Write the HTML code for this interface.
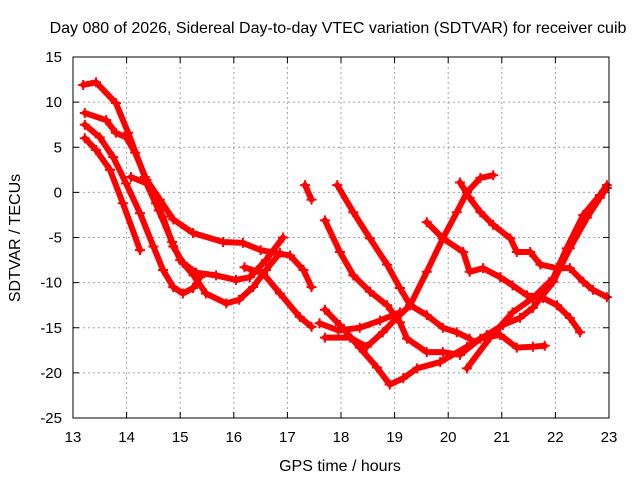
<!DOCTYPE html>
<html><head><meta charset="utf-8"><style>
body{margin:0;background:#fff;}
svg{display:block;font-family:"Liberation Sans",sans-serif;}
</style></head><body>
<svg id="chart" width="640" height="480" viewBox="0 0 640 480" xmlns="http://www.w3.org/2000/svg">
<rect width="640" height="480" fill="#fff"/>
<text x="338" y="33" font-size="16" text-anchor="middle">Day 080 of 2026, Sidereal Day-to-day VTEC variation (SDTVAR) for receiver cuib</text>
<text x="340" y="471" font-size="16" text-anchor="middle">GPS time / hours</text>
<text transform="translate(20,238) rotate(-90)" font-size="16" text-anchor="middle">SDTVAR / TECUs</text>
<g id="grid"></g>
<g id="ticks"></g>
<g id="series"></g>
<rect x="73" y="57" width="536" height="361" fill="none" stroke="#000" stroke-width="1"/>
</svg>
<script>
const xTicks=[13,14,15,16,17,18,19,20,21,22,23];
const yTicks=[15,10,5,0,-5,-10,-15,-20,-25];
const sA_x=[13.19,13.43,13.8,14.03,14.34,14.62,14.87,15.24,15.8,16.17,16.5,17.05,17.3,17.45];
const sA_y=[11.9,12.2,9.9,6.6,1.7,-0.8,-3,-4.5,-5.5,-5.6,-6.4,-7,-8.6,-10.5];
const sB_x=[13.22,13.62,13.8,13.99,14.16,14.37,14.55,14.68,14.87,15.05,15.3,15.67,16.04,16.3,16.6,16.92];
const sB_y=[8.8,8,6.6,6.1,4.4,1.4,-1.2,-2.7,-6,-7.8,-8.9,-9.2,-9.7,-9.4,-7.5,-5];
const sC_x=[13.22,13.5,13.75,13.99,14.25,14.5,14.68,14.87,15.05,15.24,15.37];
const sC_y=[7.5,6.1,3.9,1,-2.3,-6,-8.6,-10.5,-11.2,-10.6,-9.4];
const sD_x=[14.08,14.37,14.6,14.85,15.0,15.25,15.48,15.86,16.1,16.36,16.6,16.86];
const sD_y=[1.7,1.0,-2,-5.5,-7.5,-9.2,-11.2,-12.3,-11.9,-10.5,-8.6,-6.7];
const sE_x=[13.22,13.43,13.69,13.93,14.25];
const sE_y=[6.0,4.7,2.5,-1.2,-6.4];
const sF_x=[16.2,16.55,16.86,17.23,17.45];
const sF_y=[-8.3,-9,-11.2,-13.8,-14.9];
const sS_x=[17.33,17.45];
const sS_y=[0.8,-0.8];
const sG_x=[17.93,18.23,18.54,18.86,19.1,19.29,19.6,19.9,20.16,20.4];
const sG_y=[0.8,-2.2,-5.1,-8,-10.6,-12.5,-13.6,-15,-15.5,-16.2];
const sH_x=[17.7,17.98,18.23,18.54,18.86,19.1,19.23,19.6,19.9,20.22,20.6,20.97,21.28,21.58,21.8];
const sH_y=[-3.1,-6.6,-9.2,-11,-12.5,-14.4,-16.2,-17.7,-17.7,-18,-16.2,-15.8,-17.2,-17.1,-17];
const sI_x=[17.7,17.98,18.35,18.67,18.91,19.16,19.42,19.85,20.35,20.72,21.02,21.34,21.58,21.96,22.27,22.59,22.83,22.96];
const sI_y=[-13,-14.7,-17.2,-19.4,-21.3,-20.6,-19.5,-18.8,-17.1,-15.8,-14.7,-13.9,-12.8,-9.9,-6.2,-2.8,-0.6,0.5];
const sJ_x=[17.7,18.17,18.48,18.78,19.04,19.29,19.6,19.9,20.16,20.35,20.6,20.84];
const sJ_y=[-16.1,-16.1,-17.1,-15.5,-13.9,-12.5,-8.8,-5.1,-2.2,0,1.6,1.9];
const sK_x=[17.6,17.95,18.35,18.73,19.1];
const sK_y=[-14.5,-15.3,-15,-14.2,-13.3];
const sL_x=[19.6,19.9,20.28,20.4,20.65,20.97,21.2,21.47,21.77,22.03,22.27,22.46];
const sL_y=[-3.3,-5.1,-6.6,-8.8,-8.4,-9.4,-10.3,-11.4,-11.7,-12.5,-13.9,-15.5];
const sM_x=[20.22,20.4,20.6,20.84,21.16,21.28,21.53,21.72,22.03,22.27,22.52,22.7,22.96];
const sM_y=[1.1,-0.6,-2.2,-3.6,-5.1,-6.6,-6.6,-8,-8.4,-8.4,-9.9,-10.8,-11.6];
const sN_x=[20.35,20.78,21.2,21.58,21.96,22.21,22.52,22.83,22.96];
const sN_y=[-19.5,-16.1,-13.3,-11.7,-9.5,-6.2,-2.5,-0.3,0.8];

const L=73,R=609,T=57,B=418;
const xs=v=>L+(v-13)/10*(R-L);
const ys=v=>T+(15-v)/40*(B-T);
const NS="http://www.w3.org/2000/svg";
function mk(tag,attrs,parent){const e=document.createElementNS(NS,tag);for(const k in attrs)e.setAttribute(k,attrs[k]);parent.appendChild(e);return e;}
const grid=document.getElementById('grid'),ticks=document.getElementById('ticks'),ser=document.getElementById('series');
xTicks.forEach(t=>{const x=xs(t);
 if(t>13&&t<23){const g=mk('line',{x1:x,x2:x,y1:T,y2:B,stroke:'#a0a0a0','stroke-dasharray':'2,3'},grid);
 
 }
 mk('line',{x1:x,x2:x,y1:B,y2:B-6,stroke:'#000'},ticks);
 mk('line',{x1:x,x2:x,y1:T,y2:T+6,stroke:'#000'},ticks);
 const tx=mk('text',{x:x,y:B+24,'font-size':15,'text-anchor':'middle'},ticks);tx.textContent=t;
 
 
});
yTicks.forEach(t=>{const y=ys(t);
 if(t<15&&t>-25){const g=mk('line',{x1:L,x2:R,y1:y,y2:y,stroke:'#a0a0a0','stroke-dasharray':'2,3'},grid);
 
 }
 mk('line',{x1:L,x2:L+6,y1:y,y2:y,stroke:'#000'},ticks);
 mk('line',{x1:R,x2:R-6,y1:y,y2:y,stroke:'#000'},ticks);
 const tx=mk('text',{x:L-11,y:y+5,'font-size':15,'text-anchor':'end'},ticks);tx.textContent=t;
 
 
});
const all=[[sA_x,sA_y],[sB_x,sB_y],[sC_x,sC_y],[sD_x,sD_y],[sE_x,sE_y],[sF_x,sF_y],[sS_x,sS_y],[sG_x,sG_y],[sH_x,sH_y],[sI_x,sI_y],[sJ_x,sJ_y],[sK_x,sK_y],[sL_x,sL_y],[sM_x,sM_y],[sN_x,sN_y]];
all.forEach(([X,Y])=>{
 const pts=X.map((v,i)=>xs(v)+','+ys(Y[i])).join(' ');
 const p=mk('polyline',{points:pts,fill:'none',stroke:'#ff0000','stroke-width':6,'stroke-linejoin':'round','stroke-linecap':'round'},ser);
 
 
 X.forEach((v,i)=>{const x=xs(v),y=ys(Y[i]);
  const m=mk('path',{d:`M${x-5},${y}H${x+5}M${x},${y-5}V${y+5}`,stroke:'#ff0000','stroke-width':2},ser);
  
  
 });
});
</script>
</body></html>
